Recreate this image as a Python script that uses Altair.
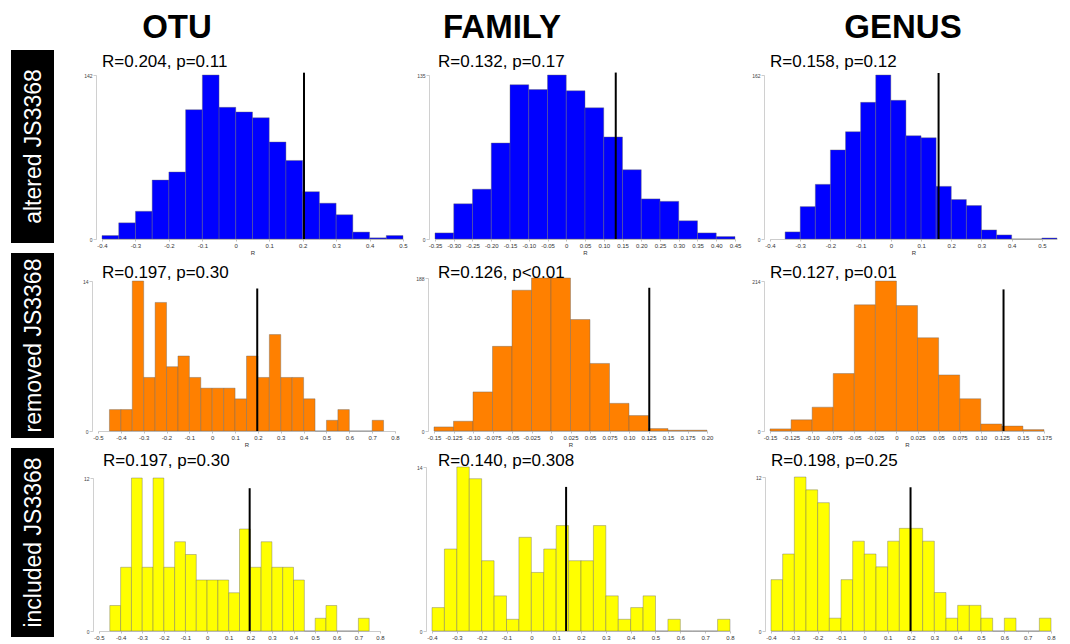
import json
import altair as alt
import pandas as pd

# ----------------------------------------------------------------- data
COLUMN_HEADERS = ["OTU", "FAMILY", "GENUS"]
ROW_LABELS = ["altered JS3368", "removed JS3368", "included JS3368"]

# observed R (vertical line) and panel titles
OBSERVED_R = [0.204, 0.132, 0.158,
              0.197, 0.126, 0.127,
              0.197, 0.140, 0.198]
PANEL_TITLES = ["R=0.204, p=0.11", "R=0.132, p=0.17", "R=0.158, p=0.12",
                "R=0.197, p=0.30", "R=0.126, p<0.01", "R=0.127, p=0.01",
                "R=0.197, p=0.30", "R=0.140, p=0.308", "R=0.198, p=0.25"]
Y_MAX_TICK = [142, 135, 162,
              14, 188, 214,
              12, 14, 12]
LINE_TOP = [144, 137, 164,
            13.3, 176, 202,
            11.2, 12.3, 11.2]

# histogram bins: first bin edge, bin width, counts
BIN_START = [-0.40, -0.35, -0.35,
             -0.45, -0.15, -0.15,
             -0.45, -0.40, -0.40]
BIN_WIDTH = [0.05, 0.05, 0.05,
             0.05, 0.025, 0.025,
             0.05, 0.05, 0.05]

ALT_OTU_COUNTS = [3, 14, 24, 51, 58, 112, 142, 114, 110, 105, 84, 68, 41, 31, 21, 6, 1, 3]
ALT_FAM_COUNTS = [5, 29, 41, 79, 127, 123, 135, 122, 108, 84, 57, 33, 31, 15, 5, 2]
ALT_GEN_COUNTS = [7, 32, 54, 88, 106, 135, 162, 137, 102, 100, 52, 39, 33, 9, 4, 0, 0, 1]

REM_OTU_COUNTS = [2, 2, 14, 5, 12, 6, 7, 5, 4, 4, 4, 3, 7, 5, 9, 5, 5, 3, 0, 1, 2, 0, 0, 1]
REM_FAM_COUNTS = [5, 12, 48, 104, 173, 188, 188, 137, 83, 34, 19, 3, 1, 1]
REM_GEN_COUNTS = [3, 16, 34, 82, 180, 214, 179, 133, 80, 46, 10, 7, 2]

INC_OTU_COUNTS = [2, 5, 12, 5, 12, 5, 7, 6, 4, 4, 4, 3, 8, 5, 7, 5, 5, 4, 0, 1, 2, 0, 0, 1]
INC_FAM_COUNTS = [2, 7, 14, 13, 6, 3, 1, 8, 5, 7, 9, 6, 6, 9, 3, 1, 2, 3, 0, 1, 0, 0, 0, 1]
INC_GEN_COUNTS = [4, 6, 12, 11, 10, 1, 4, 7, 6, 5, 7, 8, 8, 7, 3, 1, 2, 2, 1, 0, 1, 0, 0, 1]

# x-axis domains and tick labels
X_DOMAINS = [[-0.4, 0.5], [-0.35, 0.45], [-0.4, 0.55],
             [-0.5, 0.8], [-0.15, 0.20], [-0.15, 0.175],
             [-0.5, 0.8], [-0.4, 0.8], [-0.4, 0.8]]

TICKS_P1 = [-0.5, -0.4, -0.3, -0.2, -0.1, 0, 0.1, 0.2, 0.3, 0.4, 0.5, 0.6, 0.7, 0.8]
LABELS_P1 = ["-0.5", "-0.4", "-0.3", "-0.2", "-0.1", "0", "0.1", "0.2", "0.3",
             "0.4", "0.5", "0.6", "0.7", "0.8"]
TICKS_P05 = [-0.35, -0.30, -0.25, -0.20, -0.15, -0.10, -0.05, 0, 0.05, 0.10,
             0.15, 0.20, 0.25, 0.30, 0.35, 0.40, 0.45]
LABELS_P05 = ["-0.35", "-0.30", "-0.25", "-0.20", "-0.15", "-0.10", "-0.05", "0",
              "0.05", "0.10", "0.15", "0.20", "0.25", "0.30", "0.35", "0.40", "0.45"]
TICKS_P025 = [-0.15, -0.125, -0.10, -0.075, -0.05, -0.025, 0, 0.025, 0.05, 0.075,
              0.10, 0.125, 0.15, 0.175, 0.20]
LABELS_P025 = ["-0.15", "-0.125", "-0.10", "-0.075", "-0.05", "-0.025", "0", "0.025",
               "0.05", "0.075", "0.10", "0.125", "0.15", "0.175", "0.20"]

# ----------------------------------------------------------------- style / layout
FONT = "Liberation Sans"
ROW_COLORS = ["#0000FF", "#FF8000", "#FFFF00"]
COL_W = [43, 364, 334, 306]
HEADER_H = 42
HEADER_CX = [123, 84, 151]
ROW_CELL_H = [203, 195, 189]
ROW_BOX_H = [193, 185, 189]
PANEL_H = [189, 178, 183]
PANEL_YTOP = [[25, 25, 25], [28, 25, 28], [30, 19, 29]]
PANEL_XRANGE = [[[48, 349], [17, 317], [18, 305]],
                [[44, 341], [16, 289], [18, 292]],
                [[45, 326], [14, 312], [19, 299]]]
TITLE_DX = [[0, 3, 0], [4, 4, 0], [4, 6, 0]]
TITLE_Y = [17, 25, 18]

COUNTS = [ALT_OTU_COUNTS, ALT_FAM_COUNTS, ALT_GEN_COUNTS,
          REM_OTU_COUNTS, REM_FAM_COUNTS, REM_GEN_COUNTS,
          INC_OTU_COUNTS, INC_FAM_COUNTS, INC_GEN_COUNTS]


def ticks_for(k):
    dom = X_DOMAINS[k]
    if BIN_WIDTH[k] == 0.025:
        vals, labs = TICKS_P025, LABELS_P025
    elif k == 1:
        vals, labs = TICKS_P05, LABELS_P05
    else:
        vals, labs = TICKS_P1, LABELS_P1
    pairs = [(v, l) for v, l in zip(vals, labs) if dom[0] - 1e-9 <= v <= dom[1] + 1e-9]
    return [p[0] for p in pairs], [p[1] for p in pairs]


def panel(row, col):
    k = row * 3 + col
    counts = COUNTS[k]
    start, bw = BIN_START[k], BIN_WIDTH[k]
    x0 = [start + i * bw for i in range(len(counts))]
    x1 = [v + bw for v in x0]
    df = pd.DataFrame({"x0": x0, "x1": x1, "n": counts, "base": [0] * len(counts)})

    xr = PANEL_XRANGE[row][col]
    tvals, tlabs = ticks_for(k)
    label_expr = f"{json.dumps(tlabs)}[indexof({json.dumps(tvals)}, datum.value)]"
    x_title = "R" if row < 2 else None
    xaxis = alt.Axis(values=tvals, labelExpr=label_expr, title=x_title,
                     labelFontSize=6, labelAngle=0, labelPadding=1, tickSize=2,
                     labelColor="#333333", tickColor="#999999", domainColor="#aaaaaa",
                     domainWidth=0.6, tickWidth=0.6, labelOverlap=False, labelFlush=False,
                     titleFontSize=6, titleFontWeight="normal", titlePadding=1,
                     titleColor="#333333", grid=False, labelFont=FONT, titleFont=FONT)
    yaxis = alt.Axis(values=[0, Y_MAX_TICK[k]], title=None, labelFontSize=5,
                     tickSize=3, offset=6 - xr[0], labelPadding=1, labelColor="#444444",
                     tickColor="#aaaaaa", domainColor="#bbbbbb", domainWidth=0.7,
                     tickWidth=0.6, grid=False, labelFont=FONT)
    h = PANEL_H[row]
    xscale = alt.Scale(domain=X_DOMAINS[k], range=xr, nice=False, zero=False)
    yscale = alt.Scale(domain=[0, Y_MAX_TICK[k]], range=[h, PANEL_YTOP[row][col]],
                       nice=False, zero=True)

    bars = alt.Chart(df).mark_bar(
        color=ROW_COLORS[row], stroke="#666666", strokeWidth=0.5, strokeOpacity=0.8
    ).encode(
        x=alt.X("x0:Q", scale=xscale, axis=xaxis),
        x2="x1:Q",
        y=alt.Y("n:Q", scale=yscale, axis=yaxis),
        y2="base:Q",
    )
    rule_df = pd.DataFrame({"r": [OBSERVED_R[k]], "top": [LINE_TOP[k]], "bottom": [0]})
    rule = alt.Chart(rule_df).mark_rule(color="black", strokeWidth=2).encode(
        x=alt.X("r:Q", scale=xscale, axis=xaxis),
        y=alt.Y("top:Q", scale=yscale, axis=yaxis),
        y2="bottom:Q",
    )
    tdf = pd.DataFrame({"t": [PANEL_TITLES[k]]})
    title = alt.Chart(tdf).mark_text(
        align="left", baseline="alphabetic", fontSize=17, font=FONT, color="black"
    ).encode(
        x=alt.value(xr[0] + TITLE_DX[row][col]), y=alt.value(TITLE_Y[row]), text="t:N"
    )
    return alt.layer(bars, rule, title).properties(width=COL_W[col + 1], height=h)


def label_chart(row):
    h = ROW_BOX_H[row]
    df = pd.DataFrame({"lab": [ROW_LABELS[row]]})
    box = alt.Chart(df).mark_rect(color="black").encode(
        x=alt.value(0), x2=alt.value(COL_W[0]), y=alt.value(0), y2=alt.value(h)
    )
    txt = alt.Chart(df).mark_text(
        angle=270, color="white", fontSize=23, font=FONT, align="center", baseline="middle"
    ).encode(x=alt.value(COL_W[0] / 2 + 1), y=alt.value(h / 2), text="lab:N")
    return alt.layer(box, txt).properties(width=COL_W[0], height=ROW_CELL_H[row])


def header_cell(i):
    df = pd.DataFrame({"h": [COLUMN_HEADERS[i]]})
    return alt.Chart(df).mark_text(
        fontSize=33, fontWeight="bold", font=FONT, align="center",
        baseline="top", color="black"
    ).encode(x=alt.value(HEADER_CX[i]), y=alt.value(4), text="h:N").properties(
        width=COL_W[i + 1], height=HEADER_H
    )


corner = alt.Chart(pd.DataFrame({"e": [""]})).mark_text().encode(
    x=alt.value(0), y=alt.value(10), text="e:N"
).properties(width=COL_W[0], height=HEADER_H)

cells = [corner] + [header_cell(i) for i in range(3)]
for r in range(3):
    cells.append(label_chart(r))
    for c in range(3):
        cells.append(panel(r, c))

chart = alt.concat(
    *cells, columns=4, spacing=0, bounds="flush", align="each"
).properties(
    padding={"left": 3, "top": 0, "right": 0, "bottom": 0},
    background="white",
).configure_view(stroke=None)

chart.save("out.html", embed_options={"renderer": "svg", "actions": False})
